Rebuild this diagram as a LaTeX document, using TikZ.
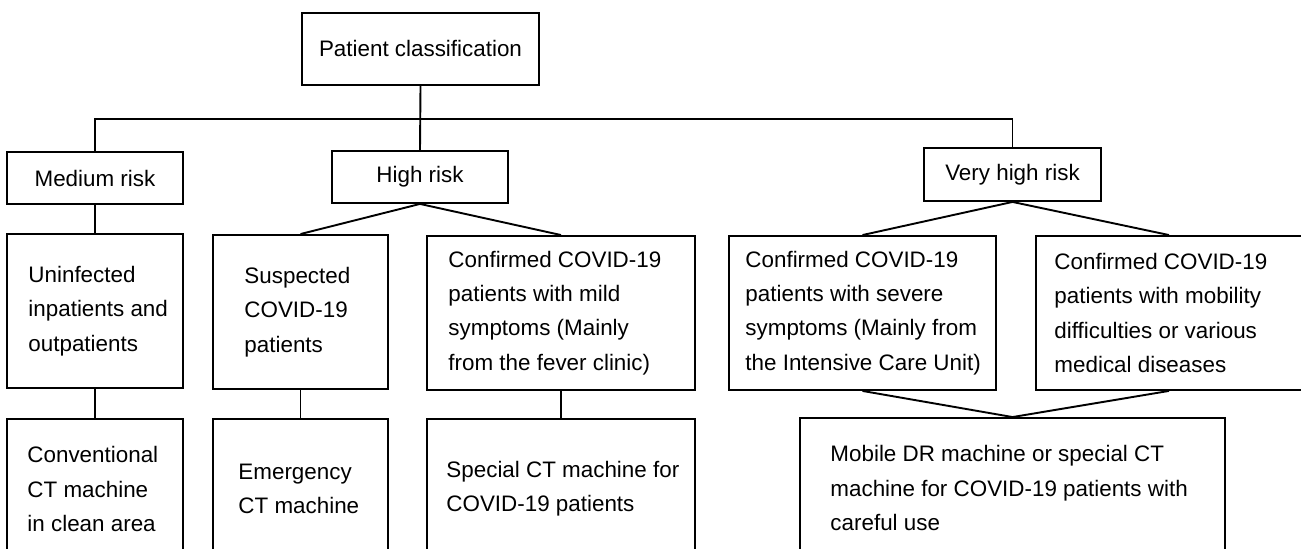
\documentclass[tikz,border=0pt]{standalone}
\usepackage{fontspec}
\setmainfont{Liberation Sans}
\usetikzlibrary{positioning}

\begin{document}
\begin{tikzpicture}[x=0.5pt, y=-0.5pt,
	box/.style={draw, line width=0.95pt, inner sep=0pt,
		font=\fontsize{11.2}{17.2}\selectfont},
	boxtext/.style={align=left, inner sep=0pt,
		font=\fontsize{11.2}{17.2}\selectfont},
	link/.style={line width=0.95pt}]
\useasboundingbox (0,0) rectangle (1301,549);
\clip (0,0) rectangle (1301,549);
% Root
\node [box, minimum width=118.5pt, minimum height=36pt] (top) at (420.5,49) {Patient classification};
% Risk levels
\node [box, minimum width=88pt, minimum height=26pt] (medium) at (95,178) {Medium risk};
\node [box, minimum width=88pt, minimum height=26pt] (high) at (420,177) {High risk};
\node [box, minimum width=88.5pt, minimum height=26.5pt] (vhigh) at (1012.5,174.5) {Very high risk};
% Patient groups
\node [box, minimum width=88pt, minimum height=77pt] (uninf) at (95,311) {};
\node [boxtext, right=11pt of uninf.west] (uninftext) {Uninfected\\ inpatients and\\ outpatients};
\node [box, minimum width=87.5pt, minimum height=77pt] (susp) at (300.5,312) {};
\node [boxtext, right=16pt of susp.west] (susptext) {Suspected\\ COVID-19\\ patients};
\node [box, minimum width=134pt, minimum height=77pt] (mild) at (561,313) {};
\node [boxtext, right=11pt of mild.west] (mildtext) {Confirmed COVID-19\\ patients with mild\\ symptoms (Mainly\\ from the fever clinic)};
\node [box, minimum width=133.5pt, minimum height=77pt] (severe) at (862.5,313) {};
\node [boxtext, right=8.5pt of severe.west] (severetext) {Confirmed COVID-19\\ patients with severe\\ symptoms (Mainly from\\ the Intensive Care Unit)};
\node [box, minimum width=133pt, minimum height=77pt] (mobil) at (1169,313) {};
\node [boxtext, right=9.5pt of mobil.west] (mobiltext) {Confirmed COVID-19\\ patients with mobility\\ difficulties or various\\ medical diseases};
% Machines
\node [box, minimum width=88pt, minimum height=70pt] (conv) at (95,489) {};
\node [boxtext, right=10.5pt of conv.west] (convtext) {Conventional\\ CT machine\\ in clean area};
\node [box, minimum width=87.5pt, minimum height=70pt] (emerg) at (300.5,489) {};
\node [boxtext, right=13pt of emerg.west] (emergtext) {Emergency\\ CT machine};
\node [box, minimum width=134pt, minimum height=70pt] (special) at (561,489) {};
\node [boxtext, right=10pt of special.west] (specialtext) {Special CT machine for\\ COVID-19 patients};
\node [box, minimum width=212.5pt, minimum height=70pt] (mobile) at (1012.5,488) {};
\node [boxtext, right=15.5pt of mobile.west] (mobiletext) {Mobile DR machine or special CT\\ machine for COVID-19 patients with\\ careful use};
% Connectors
\coordinate (bus) at (420,119);
\draw [link] (top.south) -- (high.north);
\draw [link] (medium.north) |- (bus) -| (vhigh.north);
\draw [link] (medium) -- (uninf);
\draw [link] (susp.north) -- (high.south) -- (mild.north);
\draw [link] (severe.north) -- (vhigh.south) -- (mobil.north);
\draw [link] (uninf) -- (conv);
\draw [link] (susp) -- (emerg);
\draw [link] (mild) -- (special);
\draw [link] (severe.south) -- (mobile.north) -- (mobil.south);
\end{tikzpicture}
\end{document}
